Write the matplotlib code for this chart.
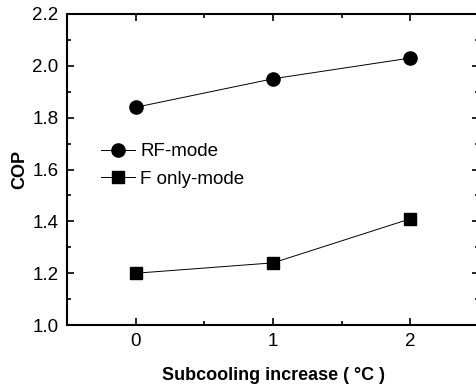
import matplotlib
matplotlib.use('Agg')
import matplotlib.pyplot as plt
from matplotlib.ticker import MultipleLocator

plt.rcParams['font.family'] = ['Liberation Sans', 'DejaVu Sans']

# data
subcooling = [0, 1, 2]
cop_rf = [1.84, 1.95, 2.03]
cop_f_only = [1.20, 1.24, 1.41]

fig = plt.figure(figsize=(4.77, 3.87), dpi=100)
ax = fig.add_axes([0.1405, 0.160, 0.864, 0.804])

ax.plot(subcooling, cop_rf, color='black', linewidth=0.7, marker='o',
        markersize=9.5, label='RF-mode')
ax.plot(subcooling, cop_f_only, color='black', linewidth=0.7, marker='s',
        markersize=8.5, label='F only-mode')

ax.set_xlim(-0.5, 2.5)
ax.set_ylim(1.0, 2.2)
ax.xaxis.set_major_locator(MultipleLocator(1))
ax.xaxis.set_minor_locator(MultipleLocator(0.5))
ax.yaxis.set_major_locator(MultipleLocator(0.2))
ax.yaxis.set_minor_locator(MultipleLocator(0.1))
ax.yaxis.set_major_formatter(plt.FormatStrFormatter('%.1f'))
ax.tick_params(which='both', direction='in', top=True, right=True, labelsize=13.5, width=1.2)
ax.tick_params(which='major', length=5, pad=6)
ax.tick_params(which='minor', length=3)
for s in ax.spines.values():
    s.set_linewidth(1.5)

ax.set_xlabel('Subcooling increase ( °C )', fontsize=13, fontweight='bold', labelpad=12)
ax.set_ylabel('COP', fontsize=13, fontweight='bold', labelpad=3)

ax.legend(loc='upper left', bbox_to_anchor=(0.06, 0.615), frameon=False, fontsize=13.5,
          handlelength=1.8, handletextpad=0.3, labelspacing=0.55, borderpad=0)

fig.savefig('out.png', dpi=100)
